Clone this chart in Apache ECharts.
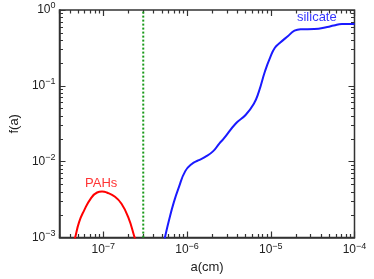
<!DOCTYPE html>
<html><head><meta charset="utf-8">
<script src="https://cdn.jsdelivr.net/npm/echarts@6/dist/echarts.min.js"></script>
<style>html,body{margin:0;padding:0;background:#fff}#c{width:374px;height:279px}</style>
</head><body><div id="c"></div>
<script>
// grain size a (cm) and size distribution f(a)
var pahA = [4.11e-8, 4.58e-8, 5.14e-8, 5.89e-8, 7.05e-8, 8.44e-8, 9.66e-8, 1.10e-7, 1.38e-7, 1.65e-7, 1.98e-7, 2.37e-7, 2.56e-7];
var pahF = [6.3e-4, 9.7e-4, 1.60e-3, 2.27e-3, 3.24e-3, 3.93e-3, 4.05e-3, 3.93e-3, 3.45e-3, 2.79e-3, 1.87e-3, 1.0e-3, 7.5e-4];
var silA = [4.90e-7, 5.46e-7, 6.08e-7, 6.95e-7, 7.96e-7, 9.53e-7, 1.14e-6, 1.36e-6, 1.63e-6, 2.04e-6, 2.44e-6, 2.71e-6, 3.82e-6, 5.00e-6, 6.28e-6, 7.18e-6, 8.57e-6, 9.82e-6, 1.12e-5, 1.29e-5, 1.61e-5, 1.92e-5, 2.31e-5, 3.30e-5, 4.73e-5, 5.65e-5, 7.08e-5, 1.0e-4];
var silF = [6.2e-4, 1.02e-3, 1.68e-3, 2.91e-3, 4.56e-3, 7.52e-3, 9.35e-3, 1.04e-2, 1.15e-2, 1.37e-2, 1.75e-2, 1.98e-2, 3.19e-2, 4.13e-2, 5.82e-2, 8.26e-2, 0.158, 0.236, 0.318, 0.370, 0.454, 0.533, 0.558, 0.561, 0.596, 0.625, 0.652, 0.652];
var cutA = [3e-7, 3e-7];
var cutF = [1e-3, 1];
var xRange = [3e-8, 1e-4];
var yRange = [1e-3, 1];
var xTickExps = [-7, -6, -5, -4];
var yTickExps = [-3, -2, -1, 0];
var labelNames = ['PAHs', 'silicate'];
var labelA = [9.45e-8, 3.55e-5];
var labelF = [5.1e-3, 0.787];

var L = Math.log10;
function pts(a, f) { return a.map(function (v, i) { return [L(v), L(f[i])]; }); }
function minorTicks(range) {
  var out = [];
  for (var e = Math.floor(L(range[0])); e < Math.ceil(L(range[1])); e++) {
    for (var k = 2; k <= 9; k++) {
      var v = k * Math.pow(10, e);
      if (v >= range[0] && v <= range[1]) out.push(L(v));
    }
  }
  return out;
}
function fmt(v) {
  var e = Math.round(v);
  return '{b|10}{s|' + (e < 0 ? '\u2212' + (-e) : e) + '}';
}
var font = 'Liberation Sans, Arial, Helvetica, sans-serif';
var axCol = '#333';
var rich = { b: { fontSize: 12, fontFamily: font, color: '#222' }, s: { fontSize: 9, fontFamily: font, color: '#222', padding: [0, 0, 8, 0] } };
var xmin = L(xRange[0]), xmax = L(xRange[1]), ymin = L(yRange[0]), ymax = L(yRange[1]);

var chart = echarts.init(document.getElementById('c'));
chart.setOption({
  animation: false,
  grid: { left: 52.5, right: 19.5, top: 10, bottom: 38.3, show: true, borderColor: axCol, borderWidth: 1.5 },
  xAxis: {
    type: 'value', min: xmin, max: xmax,
    name: 'a(cm)', nameLocation: 'middle', nameGap: 19,
    nameTextStyle: { fontSize: 13, fontFamily: font, color: '#222' },
    axisLine: { show: true, onZero: false, lineStyle: { color: axCol, width: 1.5 } },
    axisTick: { show: false },
    axisLabel: { show: true, customValues: xTickExps, formatter: fmt, rich: rich, margin: 4 },
    splitLine: { show: false }
  },
  yAxis: {
    type: 'value', min: ymin, max: ymax,
    name: 'f(a)', nameLocation: 'middle', nameGap: 33, nameRotate: 90,
    nameTextStyle: { fontSize: 13, fontFamily: font, color: '#222' },
    axisLine: { show: true, onZero: false, lineStyle: { color: axCol, width: 1.5 } },
    axisTick: { show: false },
    axisLabel: { show: true, customValues: yTickExps, formatter: fmt, rich: rich, margin: 4 },
    splitLine: { show: false }
  },
  series: [
    { type: 'line', data: pts(pahA, pahF), smooth: true, showSymbol: false, clip: true, z: 2, lineStyle: { color: '#ff0000', width: 2 } },
    { type: 'line', data: pts(silA, silF), smooth: true, showSymbol: false, clip: true, z: 2, lineStyle: { color: '#1a1aff', width: 2 } },
    { type: 'scatter', data: pts(labelA, labelF).map(function (p, i) { return { value: p, name: labelNames[i], label: { color: i === 0 ? '#ff0000' : '#0000ff' } }; }),
      symbolSize: 2, itemStyle: { color: 'rgba(255,255,255,0)' }, silent: true, z: 2,
      label: { show: true, position: 'inside', formatter: '{b}', fontSize: 13, fontFamily: font } }
  ]
});

// inward ticks on all four sides, as a lines series in data space
var p0 = chart.convertToPixel({ seriesIndex: 0 }, [xmin, ymin]);
var p1 = chart.convertToPixel({ seriesIndex: 0 }, [xmax, ymax]);
var ux = (xmax - xmin) / (p1[0] - p0[0]);   // data units per pixel, x
var uy = (ymax - ymin) / (p0[1] - p1[1]);   // data units per pixel, y
var segs = [];
function addX(v, len) {
  segs.push({ coords: [[v, ymin], [v, ymin + len * uy]] });
  segs.push({ coords: [[v, ymax], [v, ymax - len * uy]] });
}
function addY(v, len) {
  segs.push({ coords: [[xmin, v], [xmin + len * ux, v]] });
  segs.push({ coords: [[xmax, v], [xmax - len * ux, v]] });
}
xTickExps.forEach(function (v) { addX(v, 6); });
minorTicks(xRange).forEach(function (v) { addX(v, 3.5); });
yTickExps.forEach(function (v) { addY(v, 6); });
minorTicks(yRange).forEach(function (v) { addY(v, 3.5); });

chart.setOption({
  series: [
    {}, {}, {},
    { type: 'lines', coordinateSystem: 'cartesian2d', data: segs, silent: true, z: 3,
      lineStyle: { color: axCol, width: 1.2, opacity: 1, type: 'solid' } },
    { type: 'line', data: pts(cutA, cutF), showSymbol: false, clip: true, z: 9, silent: true,
      lineStyle: { color: '#1a9a1a', width: 2, type: [2, 2] } }
  ]
});
</script></body></html>
